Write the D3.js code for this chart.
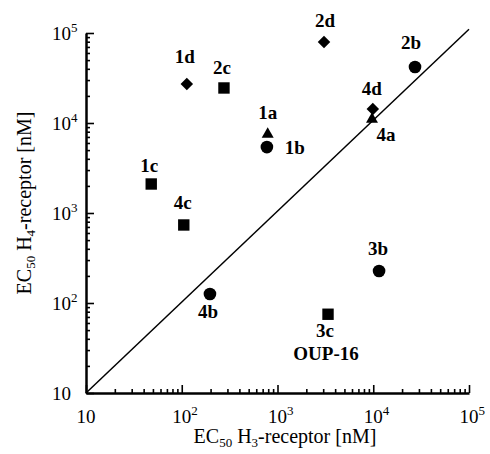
<!DOCTYPE html>
<html>
<head>
<meta charset="utf-8">
<script src="https://cdn.jsdelivr.net/npm/d3@7"></script>
<style>
  body { margin: 0; background: #fff; }
  svg { font-family: "Liberation Serif", "Times New Roman", serif; }
  .axis path, .axis line { stroke: #000; }
  .ptlabel { font-family: "Liberation Serif", serif; font-weight: bold; font-size: 19px; }
</style>
</head>
<body>
<svg width="490" height="454"></svg>
<script>
// compounds: EC50 at H3 (x) and H4 (y), nM
var names   = ["1a", "1b", "1c", "1d", "2b", "2c", "2d", "3b", "3c", "4a", "4b", "4c", "4d"];
var ecH3    = [790, 775, 48, 113, 27300, 276, 3060, 11500, 3370, 9700, 197, 105, 9900];
var ecH4    = [7500, 5400, 2100, 27100, 41900, 24500, 79400, 227, 75, 11000, 126, 736, 14300];
var shapes  = ["triangle", "circle", "square", "diamond", "circle", "square", "diamond", "circle", "square", "triangle", "circle", "square", "diamond"];
var decades = [10, 1e2, 1e3, 1e4, 1e5];
var extraLabel = {"3c": "OUP-16"};

// label placement relative to marker (px)
var labelPos = {
  "1a": [0, -15], "1b": [28, 7], "1c": [-2, -12], "1d": [-2, -21],
  "2b": [-4, -18], "2c": [-2, -14], "2d": [1, -15], "3b": [-1, -16],
  "3c": [-3, 23], "4a": [14, 22], "4b": [-2, 24], "4c": [-1, -16], "4d": [-1, -14]
};

var svg = d3.select("svg");
var x = d3.scaleLog().domain([10, 1e5]).range([86, 469]);
var y = d3.scaleLog().domain([10, 1e5]).range([393, 33]);

var minor = [];
decades.slice(0, -1).forEach(function(d) {
  for (var k = 2; k <= 9; k++) minor.push(d * k);
});

// minor ticks
svg.append("g").attr("class", "axis")
    .attr("transform", "translate(0,393)")
    .call(d3.axisBottom(x).tickValues(minor).tickSize(-4).tickFormat("").tickSizeOuter(0))
    .call(function(g) { g.select(".domain").remove(); g.selectAll("line").attr("stroke-width", 1.6); });
svg.append("g").attr("class", "axis")
    .attr("transform", "translate(86,0)")
    .call(d3.axisLeft(y).tickValues(minor).tickSize(-4).tickFormat("").tickSizeOuter(0))
    .call(function(g) { g.select(".domain").remove(); g.selectAll("line").attr("stroke-width", 1.6); });

// major ticks + axis lines
var xAxis = svg.append("g").attr("class", "axis")
    .attr("transform", "translate(0,393)")
    .call(d3.axisBottom(x).tickValues(decades).tickSize(-8).tickFormat("").tickSizeOuter(0));
xAxis.select(".domain").attr("stroke-width", 2.5);
xAxis.selectAll("line").attr("stroke-width", 1.6);
var yAxis = svg.append("g").attr("class", "axis")
    .attr("transform", "translate(86,0)")
    .call(d3.axisLeft(y).tickValues(decades).tickSize(-8).tickFormat("").tickSizeOuter(0));
yAxis.select(".domain").attr("stroke-width", 2.5);
yAxis.selectAll("line").attr("stroke-width", 1.6);

function powLabel(sel, d) {
  var e = Math.round(Math.log10(d));
  sel.append("tspan").text("10");
  if (e > 1) sel.append("tspan").attr("dy", -8).attr("font-size", 13).text(e);
}

svg.append("g").selectAll("text").data(decades).enter().append("text")
    .attr("x", function(d) { return x(d) - 9.5; })
    .attr("y", 423)
    .attr("font-size", 19)
    .each(function(d) { powLabel(d3.select(this), d); });

svg.append("g").selectAll("text").data(decades).enter().append("text")
    .attr("x", 52)
    .attr("y", function(d) { return y(d) + 6.5; })
    .attr("font-size", 19)
    .each(function(d) { powLabel(d3.select(this), d); });

// axis titles
var xt = svg.append("text").attr("x", 285).attr("y", 443)
    .attr("text-anchor", "middle").attr("font-size", 20);
xt.append("tspan").text("EC");
xt.append("tspan").attr("dy", 4).attr("font-size", 13).text("50");
xt.append("tspan").attr("dy", -4).text(" H");
xt.append("tspan").attr("dy", 4).attr("font-size", 13).text("3");
xt.append("tspan").attr("dy", -4).text("-receptor [nM]");

var yt = svg.append("text").attr("transform", "translate(31,203) rotate(-90)")
    .attr("text-anchor", "middle").attr("font-size", 20);
yt.append("tspan").text("EC");
yt.append("tspan").attr("dy", 4).attr("font-size", 13).text("50");
yt.append("tspan").attr("dy", -4).text("  H");
yt.append("tspan").attr("dy", 4).attr("font-size", 13).text("4");
yt.append("tspan").attr("dy", -4).text("-receptor [nM]");

// identity line
svg.append("line")
    .attr("x1", x(10)).attr("y1", y(10))
    .attr("x2", x(1e5)).attr("y2", y(1.1e5))
    .attr("stroke", "#000").attr("stroke-width", 1.5);

var symType = {
  circle: d3.symbolCircle, square: d3.symbolSquare,
  diamond: d3.symbolSquare, triangle: d3.symbolTriangle
};
var symSize = { circle: 125, square: 130, diamond: 78, triangle: 62 };

var pts = names.map(function(n, i) {
  return { name: n, h3: ecH3[i], h4: ecH4[i], shape: shapes[i] };
});

svg.append("g").selectAll("path").data(pts).enter().append("path")
    .attr("transform", function(d) {
      return "translate(" + x(d.h3) + "," + y(d.h4) + ")" + (d.shape === "diamond" ? " rotate(45)" : "");
    })
    .attr("d", function(d) { return d3.symbol().type(symType[d.shape]).size(symSize[d.shape])(); })
    .attr("fill", "#000");

svg.append("g").selectAll("text").data(pts).enter().append("text")
    .attr("class", "ptlabel")
    .attr("text-anchor", "middle")
    .attr("x", function(d) { return x(d.h3) + labelPos[d.name][0]; })
    .attr("y", function(d) { return y(d.h4) + labelPos[d.name][1]; })
    .text(function(d) { return d.name; });

pts.filter(function(d) { return extraLabel[d.name]; }).forEach(function(d) {
  svg.append("text").attr("class", "ptlabel").attr("text-anchor", "middle")
      .attr("x", x(d.h3) - 2)
      .attr("y", y(d.h4) + labelPos[d.name][1] + 23)
      .text(extraLabel[d.name]);
});
</script>
</body>
</html>
